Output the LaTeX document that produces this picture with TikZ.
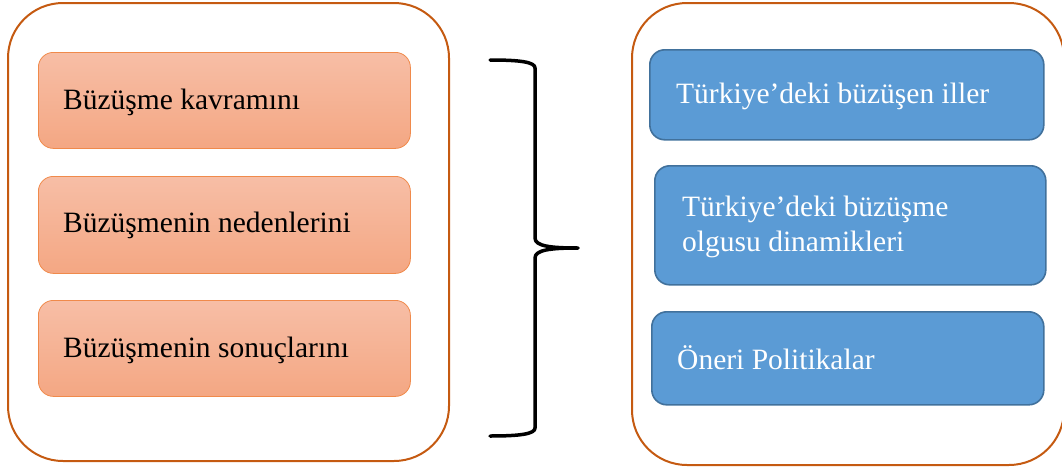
\documentclass[tikz,border=0pt]{standalone}
\usepackage{fontspec}
\setmainfont{Liberation Serif}
\definecolor{orbtop}{HTML}{F7BEA6}
\definecolor{orbbot}{HTML}{F4A783}
\definecolor{orbord}{HTML}{F08A4B}
\definecolor{blfill}{HTML}{5B9BD5}
\definecolor{blborder}{HTML}{41719C}
\definecolor{outerc}{HTML}{C55A11}
\begin{document}
\begin{tikzpicture}[x=1pt,y=-1pt,
  outerbox/.style={draw=outerc, line width=2pt, rounded corners=55pt},
  orbox/.style={draw=orbord, line width=0.8pt, rounded corners=15pt, top color=orbtop, bottom color=orbbot},
  blbox/.style={draw=blborder, line width=1.6pt, rounded corners=15pt, fill=blfill},
  lbl/.style={font=\fontsize{29.5}{35}\selectfont, anchor=west, inner sep=0pt, align=left},
]
\useasboundingbox (0,0) rectangle (1062,474);
\begin{scope}
\clip (0,0) rectangle (1062,474);
\draw[outerbox] (8,3) rectangle (449,461);
\draw[outerbox] (632,3) rectangle (1064,465);
\end{scope}
% left boxes
\node[orbox, minimum width=372pt, minimum height=96pt, anchor=north west] (l1) at (38,52) {};
\node[orbox, minimum width=372pt, minimum height=97pt, anchor=north west] (l2) at (38,176) {};
\node[orbox, minimum width=372pt, minimum height=96pt, anchor=north west] (l3) at (38,300) {};
\node[lbl] (t1) at (63,102) {Büzüşme kavramını};
\node[lbl] (t2) at (63,225) {Büzüşmenin nedenlerini};
\node[lbl] (t3) at (63,350) {Büzüşmenin sonuçlarını};
% right boxes
\node[blbox, minimum width=394pt, minimum height=90pt, anchor=north west] (r1) at (649,49) {};
\node[blbox, minimum width=391pt, minimum height=119pt, anchor=north west] (r2) at (654,165) {};
\node[blbox, minimum width=392pt, minimum height=93pt, anchor=north west] (r3) at (651,311) {};
\node[lbl, text=white] (s1) at (676,96) {Türkiye’deki büzüşen iller};
\node[lbl, text=white] (s2) at (682,227) {Türkiye’deki büzüşme\\olgusu dinamikleri};
\node[lbl, text=white] (s3) at (677,358) {Öneri Politikalar};
% brace
\coordinate (bt) at (490,60);
\coordinate (bm) at (578,248);
\coordinate (bb) at (490,436);
\draw[line width=3.5pt, line cap=round, line join=round]
  (bt) .. controls (520,60) and (535,62) .. (535,68)
  -- (535,238) .. controls (535,246) and (550,248) .. (bm)
  .. controls (550,248) and (535,250) .. (535,258)
  -- (535,428) .. controls (535,434) and (520,436) .. (bb);
\end{tikzpicture}
\end{document}
